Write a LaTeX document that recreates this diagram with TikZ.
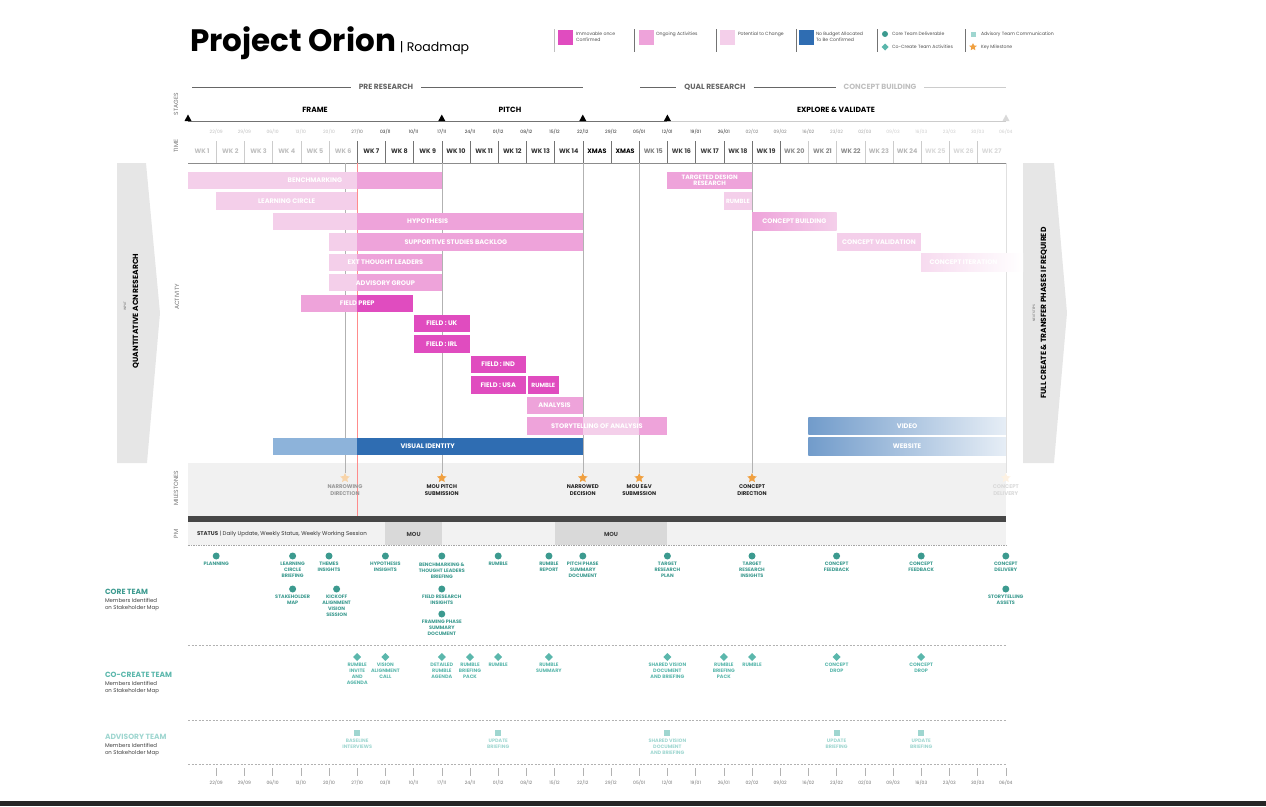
\documentclass[tikz,border=0pt]{standalone}
\usepackage{fontspec}
\setmainfont{Poppins}
\usetikzlibrary{shapes.geometric,positioning}

\definecolor{confirmed}{HTML}{E04CBF}
\definecolor{ongoing}{HTML}{EEA3DA}
\definecolor{potential}{HTML}{F4CFEA}
\definecolor{nobudget}{HTML}{2F6DB2}
\definecolor{nobudgetlt}{HTML}{8DB3DA}
\definecolor{coreteal}{HTML}{3C9A8F}
\definecolor{coteal}{HTML}{5BB7AC}
\definecolor{advteal}{HTML}{9FD6D0}
\definecolor{milestar}{HTML}{F0A040}
\definecolor{panelgray}{HTML}{E6E6E6}
\definecolor{bandgray}{HTML}{F1F1F1}

% week boundary and activity row
\newcommand{\wk}[1]{188+28.2*(#1)}
\newcommand{\rw}[1]{180.5+20.45*(#1)}
\newcommand{\actfill}[4]{\fill[#4] ({\wk{#2}},{\rw{#1}-8.7}) rectangle ({\wk{#3}},{\rw{#1}+8.7});}
\newcommand{\coreitem}[4]{\node[coredot] (#1) at ({\wk{#2}},#3) {};
  \node[corelab, below=3pt of #1] (#1t) {#4};}
\newcommand{\coitem}[4]{\node[codiamond] (#1) at ({\wk{#2}},#3) {};
  \node[colab, below=2.5pt of #1] (#1t) {#4};}
\newcommand{\advitem}[4]{\node[advsquare] (#1) at ({\wk{#2}},#3) {};
  \node[advlab, below=3pt of #1] (#1t) {#4};}

\begin{document}
\begin{tikzpicture}[x=1pt,y=-1pt]
  \tikzset{every node/.style={inner sep=0pt,outer sep=0pt},
    barlabel/.style={text=white,font=\fontsize{6.6}{7}\selectfont\bfseries,align=center},
    sidelab/.style={rotate=90,text=black!55,font=\fontsize{6}{6}\selectfont},
    stagelab/.style={font=\fontsize{7.5}{8}\selectfont\bfseries,inner xsep=8pt},
    stageline/.style={black!60,line width=0.8pt},
    legtext/.style={anchor=north west,align=left,text=black!70,font=\fontsize{4.6}{5.6}\selectfont},
    swatch/.style={minimum size=15pt},
    legsep/.style={black!55,line width=0.8pt},
    gridline/.style={black!30,line width=0.5pt},
    mstar/.style={star,star points=5,star point ratio=2.1,minimum size=10pt,fill=milestar},
    mslab/.style={align=center,font=\fontsize{5.4}{7}\selectfont\bfseries,text=black!85},
    coredot/.style={circle,fill=coreteal,minimum size=7pt},
    corelab/.style={align=center,text=coreteal,font=\fontsize{4.9}{6}\selectfont\bfseries},
    codiamond/.style={diamond,fill=coteal,minimum size=8pt},
    colab/.style={align=center,text=coteal,font=\fontsize{4.9}{6}\selectfont\bfseries},
    advsquare/.style={fill=advteal,minimum size=6pt},
    advlab/.style={align=center,text=advteal,font=\fontsize{4.9}{6}\selectfont\bfseries},
    teamhead/.style={anchor=west,font=\fontsize{7.5}{8}\selectfont\bfseries},
    teamsub/.style={anchor=north west,align=left,text=black!75,font=\fontsize{5.4}{6.6}\selectfont},
    teamsep/.style={black!30,line width=0.5pt,dash pattern=on 2pt off 1.5pt}}
  \useasboundingbox (0,0) rectangle (1266,806);

  % title and legend
  \node[anchor=base west,font=\fontsize{31}{31}\selectfont\bfseries] (title) at (190,51) {Project Orion};
  \node[anchor=base west,font=\fontsize{12.5}{13}\selectfont] (subtitle) at ([xshift=4pt]title.base east) {| Roadmap};
  \draw[legsep,black!25] (554,29) -- (554,52);
  \node[swatch,fill=confirmed] (lgConf) at (565,37) {};
  \node[legtext] (lgConfT) at (576,32) {Immovable once\\Confirmed};
  \draw[legsep] (634,29) -- (634,52);
  \node[swatch,fill=ongoing] (lgOngo) at (646,37) {};
  \node[legtext] (lgOngoT) at (656,32) {Ongoing Activities};
  \draw[legsep] (716,29) -- (716,52);
  \node[swatch,fill=potential] (lgPot) at (727,37) {};
  \node[legtext] (lgPotT) at (738,32) {Potential to Change};
  \draw[legsep] (796,29) -- (796,52);
  \node[swatch,fill=nobudget] (lgBud) at (806,37) {};
  \node[legtext] (lgBudT) at (816,32) {No Budget Allocated\\To Be Confirmed};
  \draw[legsep] (877,29) -- (877,52);
  \node[coredot,minimum size=6pt] (lgCore) at (885,34) {};
  \node[legtext,anchor=west] (lgCoreT) at (892,34) {Core Team Deliverable};
  \node[codiamond,minimum size=7pt] (lgCo) at (885,47) {};
  \node[legtext,anchor=west] (lgCoT) at (892,47) {Co-Create Team Activities};
  \draw[legsep] (965,29) -- (965,52);
  \node[advsquare,minimum size=5pt] (lgAdv) at (973,34) {};
  \node[legtext,anchor=west] (lgAdvT) at (981,34) {Advisory Team Communication};
  \node[mstar,minimum size=8pt] (lgStar) at (973,47) {};
  \node[legtext,anchor=west] (lgStarT) at (981,47) {Key Milestone};

  % stages
  \node[stagelab,text=black!60] (preR) at (386,87) {PRE RESEARCH};
  \node[stagelab,text=black!60] (qualR) at (715,87) {QUAL RESEARCH};
  \node[stagelab,text=black!25] (concB) at (880,87) {CONCEPT BUILDING};
  \coordinate (preL) at (192,87);
  \coordinate (preE) at (583,87);
  \coordinate (qualL) at (640,87);
  \coordinate (concE) at (1006,87);
  \draw[stageline] (preL) -- (preR.west);
  \draw[stageline] (preR.east) -- (preE);
  \draw[stageline] (qualL) -- (qualR.west);
  \draw[stageline] (qualR.east) -- (concB.west);
  \draw[stageline,black!20] (concB.east) -- (concE);
  \node[stagelab] (frame) at (315,110) {FRAME};
  \node[stagelab] (pitch) at (510,110) {PITCH};
  \node[stagelab] (explore) at (836,110) {EXPLORE \& VALIDATE};
  \draw[black!55,line width=0.7pt] (188,121) -- ({\wk{17}},121);
  \draw[black!20,line width=0.7pt] ({\wk{17}},121) -- (1006,121);
  \foreach \t in {0,9,14,17}
    \fill ({\wk{\t}-3.5},121) -- ({\wk{\t}+3.5},121) -- ({\wk{\t}},114.5) -- cycle;
  \fill[black!15] (1002.5,121) -- (1009.5,121) -- (1006,114.5) -- cycle;
  \node[sidelab] (lbStages) at (176,104) {STAGES};
  \node[sidelab] (lbTime) at (176,146) {TIME};

  % time row
  \foreach \d [count=\i] in {22/09,29/09,06/10,13/10,20/10,27/10,03/11,10/11,17/11,24/11,01/12,08/12,15/12,22/12,29/12,05/01,12/01,19/01,26/01,02/02,09/02,16/02,23/02,02/03,09/03,16/03,23/03,30/03,06/04} {
    \ifnum\i<6 \def\dc{black!25}\else\ifnum\i=6 \def\dc{black!55}\else\ifnum\i<20 \def\dc{black!85}\else\ifnum\i<23 \def\dc{black!50}\else\ifnum\i<25 \def\dc{black!35}\else\def\dc{black!20}\fi\fi\fi\fi\fi
    \node[text=\dc,font=\fontsize{4.5}{5}\selectfont] (dt\i) at ({\wk{\i}},132) {\d};
  }
  \foreach \lab [count=\i] in {WK 1,WK 2,WK 3,WK 4,WK 5,WK 6,WK 7,WK 8,WK 9,WK 10,WK 11,WK 12,WK 13,WK 14,XMAS,XMAS,WK 15,WK 16,WK 17,WK 18,WK 19,WK 20,WK 21,WK 22,WK 23,WK 24,WK 25,WK 26,WK 27} {
    \ifnum\i<7 \def\wc{black!25}\else\ifnum\i<15 \def\wc{black!80}\else\ifnum\i<17 \def\wc{black}\else\ifnum\i=17 \def\wc{black!50}\else\ifnum\i<22 \def\wc{black!75}\else\ifnum\i<25 \def\wc{black!45}\else\ifnum\i<27 \def\wc{black!28}\else\def\wc{black!15}\fi\fi\fi\fi\fi\fi\fi
    \node[text=\wc,font=\fontsize{6.4}{7}\selectfont\bfseries] (wk\i) at ({\wk{\i-0.5}},151) {\lab};
  }
  \foreach \i in {1,...,28} {
    \ifnum\i<6 \def\sc{black!20}\else\ifnum\i<22 \def\sc{black!55}\else\def\sc{black!20}\fi\fi
    \draw[\sc,line width=0.5pt] ({\wk{\i}},141) -- ({\wk{\i}},163);
  }
  \draw[black!45,line width=0.5pt] (188,163) -- (1006,163);

  % input and next steps
  \fill[panelgray] (117,163) -- (146,163) -- (160,313) -- (147,463) -- (117,463) -- cycle;
  \node[rotate=90,font=\fontsize{7.5}{8}\selectfont\bfseries] (inputT) at (136,311) {QUANTITATIVE ACN RESEARCH};
  \node[rotate=90,text=black!60,font=\fontsize{3.2}{4}\selectfont] (inputS) at (125,306) {INPUT};
  \fill[panelgray] (1023,163) -- (1054,163) -- (1067,313) -- (1054,463) -- (1023,463) -- cycle;
  \node[rotate=90,font=\fontsize{7.5}{8}\selectfont\bfseries] (nextT) at (1044,313) {FULL CREATE \& TRANSFER PHASES IF REQUIRED};
  \node[rotate=90,text=black!60,font=\fontsize{3.2}{4}\selectfont] (nextS) at (1034,313) {NEXT STEPS};
  \node[sidelab] (lbAct) at (177,297) {ACTIVITY};

  % milestone band, status bar
  \fill[bandgray] (188,463) rectangle (1006,516);
  \fill[black!72] (188,516) rectangle (1006,522);
  \fill[black!5] (188,522) rectangle (1006,545);
  \fill[black!15] ({\wk{7}},522) rectangle ({\wk{9}},545);
  \fill[black!15] ({\wk{13}},522) rectangle ({\wk{17}},545);
  \draw[black!35,line width=0.5pt,dash pattern=on 1.5pt off 1pt] (188,545.5) -- (1006,545.5);
  \node[sidelab] (lbMile) at (176,488) {MILESTONES};
  \node[sidelab] (lbPM) at (176,534) {PM};
  \node[anchor=west,text=black!80,font=\fontsize{5.5}{6}\selectfont] (status) at (197,534) {\textbf{STATUS} | Daily Update, Weekly Status, Weekly Working Session};
  \node[font=\fontsize{5.8}{6}\selectfont\bfseries,text=black!75] (mou1) at ({\wk{8}},534) {MOU};
  \node[font=\fontsize{5.8}{6}\selectfont\bfseries,text=black!75] (mou2) at ({\wk{15}},534) {MOU};

  % milestones
  \node[mstar,fill=milestar!45] (msNarrow) at (345,478) {};
  \node[mstar] (msPitch) at ({\wk{9}},478) {};
  \node[mstar] (msDecide) at ({\wk{14}},478) {};
  \node[mstar] (msEV) at ({\wk{16}},478) {};
  \node[mstar] (msDirect) at ({\wk{20}},478) {};
  \node[mstar,fill=milestar!15] (msDeliver) at ({\wk{29}},478) {};
  \foreach \m/\gx in {msNarrow/345,msPitch/{\wk{9}},msDecide/{\wk{14}},msEV/{\wk{16}},msDirect/{\wk{20}}} {
    \coordinate (\m Top) at ({\gx},163);
    \draw[gridline] (\m Top) -- (\m);
  }
  \coordinate (msDeliverTop) at ({\wk{29}},163);
  \draw[gridline,black!12] (msDeliverTop) -- (msDeliver);
  \draw[red!45,line width=0.4pt] ({\wk{6}},163) -- ({\wk{6}},516);
  \node[mslab,text=black!40,below=4pt of msNarrow] (msNarrowT) {NARROWING\\DIRECTION};
  \node[mslab,below=4pt of msPitch] (msPitchT) {MOU PITCH\\SUBMISSION};
  \node[mslab,below=4pt of msDecide] (msDecideT) {NARROWED\\DECISION};
  \node[mslab,below=4pt of msEV] (msEVT) {MOU E\&V\\SUBMISSION};
  \node[mslab,below=4pt of msDirect] (msDirectT) {CONCEPT\\DIRECTION};
  \node[mslab,text=black!15,below=4pt of msDeliver] (msDeliverT) {CONCEPT\\DELIVERY};

  % activity bars
  \actfill{0}{0}{6}{potential}
  \actfill{0}{6}{9}{ongoing}
  \node[barlabel] (bench) at ({\wk{4.5}},{\rw{0}}) {BENCHMARKING};
  \actfill{0}{17}{20}{ongoing}
  \node[barlabel,font=\fontsize{6.2}{6.4}\selectfont\bfseries] (targeted) at ({\wk{18.5}},{\rw{0}}) {TARGETED DESIGN\\RESEARCH};
  \actfill{1}{1}{6}{potential}
  \node[barlabel] (learn) at ({\wk{3.5}},{\rw{1}}) {LEARNING CIRCLE};
  \actfill{1}{19}{20}{potential}
  \node[barlabel,font=\fontsize{6}{6}\selectfont\bfseries] (rumbleE) at ({\wk{19.5}},{\rw{1}}) {RUMBLE};
  \actfill{2}{3}{6}{potential}
  \actfill{2}{6}{14}{ongoing}
  \node[barlabel] (hypo) at ({\wk{8.5}},{\rw{2}}) {HYPOTHESIS};
  \shade[left color=ongoing,right color=potential] ({\wk{20}},{\rw{2}-8.7}) rectangle ({\wk{23}},{\rw{2}+8.7});
  \node[barlabel] (cbuild) at ({\wk{21.5}},{\rw{2}}) {CONCEPT BUILDING};
  \actfill{3}{5}{6}{potential}
  \actfill{3}{6}{14}{ongoing}
  \node[barlabel] (support) at ({\wk{9.5}},{\rw{3}}) {SUPPORTIVE STUDIES BACKLOG};
  \actfill{3}{23}{26}{potential}
  \node[barlabel] (cvalid) at ({\wk{24.5}},{\rw{3}}) {CONCEPT VALIDATION};
  \actfill{4}{5}{6}{potential}
  \actfill{4}{6}{9}{ongoing}
  \node[barlabel] (extTL) at ({\wk{7}},{\rw{4}}) {EXT THOUGHT LEADERS};
  \shade[left color=potential!75,right color=white] ({\wk{26}},{\rw{4}-8.7}) rectangle (1023,{\rw{4}+8.7});
  \node[barlabel] (citer) at ({\wk{27.5}},{\rw{4}}) {CONCEPT ITERATION};
  \actfill{5}{5}{6}{potential}
  \actfill{5}{6}{9}{ongoing}
  \node[barlabel] (advGrp) at ({\wk{7}},{\rw{5}}) {ADVISORY GROUP};
  \actfill{6}{4}{6}{ongoing}
  \actfill{6}{6}{7.97}{confirmed}
  \node[barlabel] (fprep) at ({\wk{6}},{\rw{6}}) {FIELD PREP};
  \actfill{7}{8.03}{10}{confirmed}
  \node[barlabel] (fUK) at ({\wk{9}},{\rw{7}}) {FIELD : UK};
  \actfill{8}{8.03}{10}{confirmed}
  \node[barlabel] (fIRL) at ({\wk{9}},{\rw{8}}) {FIELD : IRL};
  \actfill{9}{10.03}{12}{confirmed}
  \node[barlabel] (fIND) at ({\wk{11}},{\rw{9}}) {FIELD : IND};
  \actfill{10}{10.03}{11.97}{confirmed}
  \node[barlabel] (fUSA) at ({\wk{11}},{\rw{10}}) {FIELD : USA};
  \actfill{10}{12.05}{13.15}{confirmed}
  \node[barlabel,font=\fontsize{6}{6}\selectfont\bfseries] (rumbleP) at ({\wk{12.6}},{\rw{10}}) {RUMBLE};
  \actfill{11}{12.03}{14}{ongoing}
  \node[barlabel] (analysis) at ({\wk{13}},{\rw{11}}) {ANALYSIS};
  \actfill{12}{12.03}{14}{ongoing}
  \actfill{12}{14}{16}{potential}
  \actfill{12}{16}{17}{ongoing}
  \node[barlabel] (story) at ({\wk{14.5}},{\rw{12}}) {STORYTELLING OF ANALYSIS};
  \shade[left color=nobudget!68!white,right color=nobudget!12!white] ({\wk{22}},{\rw{12}-8.7}) rectangle ({\wk{29}},{\rw{12}+8.7});
  \node[barlabel] (video) at ({\wk{25.5}},{\rw{12}}) {VIDEO};
  \actfill{13}{3}{6}{nobudgetlt}
  \actfill{13}{6}{14}{nobudget}
  \node[barlabel] (visual) at ({\wk{8.5}},{\rw{13}}) {VISUAL IDENTITY};
  \shade[left color=nobudget!68!white,right color=nobudget!12!white] ({\wk{22}},{\rw{13}-8.7}) rectangle ({\wk{29}},{\rw{13}+8.7});
  \node[barlabel] (website) at ({\wk{25.5}},{\rw{13}}) {WEBSITE};

  % core team
  \node[teamhead,text=coreteal] (coreH) at (105,592) {CORE TEAM};
  \node[teamsub] (coreS) at ([yshift=-4pt]coreH.south west) {Members Identified\\on Stakeholder Map};
  \coreitem{cPlan}{1}{556}{PLANNING}
  \coreitem{cLearn}{3.71}{556}{LEARNING\\CIRCLE\\BRIEFING}
  \coreitem{cThemes}{5}{556}{THEMES\\INSIGHTS}
  \coreitem{cHypo}{7}{556}{HYPOTHESIS\\INSIGHTS}
  \coreitem{cBench}{9}{556}{BENCHMARKING \&\\THOUGHT LEADERS\\BRIEFING}
  \coreitem{cRumble}{11}{556}{RUMBLE}
  \coreitem{cRumRep}{12.8}{556}{RUMBLE\\REPORT}
  \coreitem{cPitch}{14}{556}{PITCH PHASE\\SUMMARY\\DOCUMENT}
  \coreitem{cTPlan}{17}{556}{TARGET\\RESEARCH\\PLAN}
  \coreitem{cTIns}{20}{556}{TARGET\\RESEARCH\\INSIGHTS}
  \coreitem{cFeedA}{23}{556}{CONCEPT\\FEEDBACK}
  \coreitem{cFeedB}{26}{556}{CONCEPT\\FEEDBACK}
  \coreitem{cDeliv}{29}{556}{CONCEPT\\DELIVERY}
  \coreitem{cStake}{3.71}{589}{STAKEHOLDER\\MAP}
  \coreitem{cKick}{5.27}{589}{KICKOFF\\ALIGNMENT\\VISION\\SESSION}
  \coreitem{cField}{9}{589}{FIELD RESEARCH\\INSIGHTS}
  \coreitem{cStory}{29}{589}{STORYTELLING\\ASSETS}
  \coreitem{cFrame}{9}{614}{FRAMING PHASE\\SUMMARY\\DOCUMENT}
  \draw[teamsep] (188,645) -- (1006,645);

  % co-create team
  \node[teamhead,text=coteal] (coH) at (105,675) {CO-CREATE TEAM};
  \node[teamsub] (coS) at ([yshift=-4pt]coH.south west) {Members Identified\\on Stakeholder Map};
  \coitem{kInvite}{6}{657}{RUMBLE\\INVITE\\AND\\AGENDA}
  \coitem{kVision}{7}{657}{VISION\\ALIGNMENT\\CALL}
  \coitem{kDetail}{9}{657}{DETAILED\\RUMBLE\\AGENDA}
  \coitem{kPackA}{10}{657}{RUMBLE\\BRIEFING\\PACK}
  \coitem{kRumA}{11}{657}{RUMBLE}
  \coitem{kSumm}{12.8}{657}{RUMBLE\\SUMMARY}
  \coitem{kShared}{17}{657}{SHARED VISION\\DOCUMENT\\AND BRIEFING}
  \coitem{kPackB}{19}{657}{RUMBLE\\BRIEFING\\PACK}
  \coitem{kRumB}{20}{657}{RUMBLE}
  \coitem{kDropA}{23}{657}{CONCEPT\\DROP}
  \coitem{kDropB}{26}{657}{CONCEPT\\DROP}
  \draw[teamsep] (188,720) -- (1006,720);

  % advisory team
  \node[teamhead,text=advteal] (advH) at (105,737) {ADVISORY TEAM};
  \node[teamsub] (advS) at ([yshift=-4pt]advH.south west) {Members Identified\\on Stakeholder Map};
  \advitem{aBase}{6}{733}{BASELINE\\INTERVIEWS}
  \advitem{aUpdA}{11}{733}{UPDATE\\BRIEFING}
  \advitem{aShared}{17}{733}{SHARED VISION\\DOCUMENT\\AND BRIEFING}
  \advitem{aUpdB}{23}{733}{UPDATE\\BRIEFING}
  \advitem{aUpdC}{26}{733}{UPDATE\\BRIEFING}

  % bottom time row
  \draw[teamsep] (188,764) -- (1006,764);
  \foreach \d [count=\i] in {22/09,29/09,06/10,13/10,20/10,27/10,03/11,10/11,17/11,24/11,01/12,08/12,15/12,22/12,29/12,05/01,12/01,19/01,26/01,02/02,09/02,16/02,23/02,02/03,09/03,16/03,23/03,30/03,06/04} {
    \node[text=black!55,font=\fontsize{4.5}{5}\selectfont] (bd\i) at ({\wk{\i}},783) {\d};
    \draw[black!30,line width=0.5pt] ({\wk{\i}},768) -- ({\wk{\i}},776);
  }
  \fill[black!85] (0,801) rectangle (1266,806);
\end{tikzpicture}
\end{document}
